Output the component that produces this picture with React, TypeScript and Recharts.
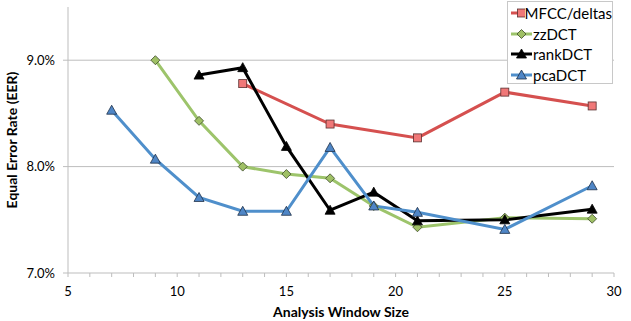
import React from "react";
import { LineChart, Line, XAxis, YAxis, CartesianGrid, Legend, Label } from "recharts";

const FONT = "Lato, 'Open Sans', sans-serif";

const mfccX = [13, 17, 21, 25, 29];
const mfccY = [8.78, 8.4, 8.27, 8.7, 8.57];
const zzX = [9, 11, 13, 15, 17, 19, 21, 25, 29];
const zzY = [9.0, 8.43, 8.0, 7.93, 7.89, 7.63, 7.43, 7.52, 7.51];
const rankX = [11, 13, 15, 17, 19, 21, 25, 29];
const rankY = [8.86, 8.93, 8.19, 7.59, 7.76, 7.49, 7.5, 7.6];
const pcaX = [7, 9, 11, 13, 15, 17, 19, 21, 25, 29];
const pcaY = [8.53, 8.07, 7.71, 7.58, 7.58, 8.18, 7.63, 7.57, 7.41, 7.82];

const xTicks = [5, 6, 7, 8, 9, 10, 11, 12, 13, 14, 15, 16, 17, 18, 19, 20, 21, 22, 23, 24, 25, 26, 27, 28, 29, 30];
const xLabelled = [5, 10, 15, 20, 25, 30];
const yTicks = [7.0, 8.0, 9.0];

const toData = (xs: number[], ys: number[]) => xs.map((x, i) => ({ x, y: ys[i] }));

type Shape = "square" | "diamond" | "triangle";

const drawMarker = (shape: Shape, cx: number, cy: number, fill: string, stroke: string, key?: string) => {
  if (shape === "square") {
    return <rect key={key} x={cx - 4} y={cy - 4} width={8} height={8} fill={fill} stroke={stroke} strokeWidth={0.8} />;
  }
  if (shape === "diamond") {
    return (
      <polygon key={key} points={`${cx},${cy - 4.5} ${cx + 4.5},${cy} ${cx},${cy + 4.5} ${cx - 4.5},${cy}`} fill={fill} stroke={stroke} strokeWidth={0.8} />
    );
  }
  return (
    <polygon key={key} points={`${cx},${cy - 5} ${cx + 5},${cy + 4} ${cx - 5},${cy + 4}`} fill={fill} stroke={stroke} strokeWidth={0.8} />
  );
};

const series = [
  { name: "MFCC/deltas", data: toData(mfccX, mfccY), color: "#d5504f", fill: "#f07878", mstroke: "#5a3030", shape: "square" as Shape },
  { name: "zzDCT", data: toData(zzX, zzY), color: "#9dc46b", fill: "#9fc065", mstroke: "#3c4a2a", shape: "diamond" as Shape },
  { name: "rankDCT", data: toData(rankX, rankY), color: "#000000", fill: "#000000", mstroke: "#000000", shape: "triangle" as Shape },
  { name: "pcaDCT", data: toData(pcaX, pcaY), color: "#4f8fcb", fill: "#4f86c6", mstroke: "#1e3048", shape: "triangle" as Shape },
];

const renderLegend = () => (
  <div
    style={{
      border: "1px solid #c8c8c8",
      background: "#fff",
      width: 104,
      height: 81,
      boxSizing: "content-box",
      fontFamily: FONT,
      fontSize: 15,
      color: "#000",
      textAlign: "left",
    }}
  >
    {series.map((s, i) => (
      <div key={s.name} style={{ display: "flex", alignItems: "center", height: 20.5, marginTop: i === 0 ? 1 : 0 }}>
        <svg width={25} height={14} style={{ display: "block" }}>
          <line x1={3} y1={7} x2={24} y2={7} stroke={s.color} strokeWidth={3} />
          {drawMarker(s.shape, 13.5, 7, s.fill, s.mstroke)}
        </svg>
        <span style={{ lineHeight: "16px" }}>{s.name}</span>
      </div>
    ))}
  </div>
);

export default function App() {
  return (
    <div style={{ position: "absolute", left: 0, top: 0, width: 631, height: 321, background: "#fff" }}>
      <LineChart width={631} height={321} margin={{ top: 7, right: 17, bottom: 0, left: 0 }}>
        <CartesianGrid horizontal={true} vertical={false} stroke="#bdbdbd" strokeWidth={1} horizontalValues={[8.0, 9.0]} />
        <XAxis
          type="number"
          dataKey="x"
          domain={[5, 30]}
          ticks={xTicks}
          interval={0}
          allowDuplicatedCategory={false}
          tickFormatter={(v: number) => (xLabelled.includes(v) ? String(v) : "")}
          tickSize={4}
          tickMargin={10}
          height={48}
          stroke="#bdbdbd"
          tick={{ fill: "#000", fontSize: 13, fontFamily: FONT }}
        >
          <Label value="Analysis Window Size" position="insideBottom" offset={4} style={{ fontFamily: FONT, fontWeight: 700, fontSize: 14, fill: "#000" }} />
        </XAxis>
        <YAxis
          type="number"
          domain={[7.0, 9.5]}
          ticks={yTicks}
          interval={0}
          tickFormatter={(v: number) => v.toFixed(1) + "%"}
          tickSize={5}
          tickMargin={8}
          width={68}
          stroke="#bdbdbd"
          tick={{ fill: "#000", fontSize: 13, fontFamily: FONT }}
        >
          <Label
            value="Equal Error Rate (EER)"
            angle={-90}
            position="insideLeft"
            offset={12}
            style={{ textAnchor: "middle", fontFamily: FONT, fontWeight: 700, fontSize: 14, fill: "#000" }}
          />
        </YAxis>
        <Legend
          layout="horizontal"
          verticalAlign="middle"
          align="center"
          content={renderLegend}
          wrapperStyle={{ position: "absolute", left: 507, top: 1, width: 106, height: 83 }}
        />
        {series.map((s) => (
          <Line
            key={s.name}
            name={s.name}
            data={s.data}
            dataKey="y"
            stroke={s.color}
            strokeWidth={3}
            isAnimationActive={false}
            dot={(p: any) => drawMarker(s.shape, p.cx, p.cy, s.fill, s.mstroke, `${s.name}-${p.index}`)}
            activeDot={false}
          />
        ))}
      </LineChart>
    </div>
  );
}
